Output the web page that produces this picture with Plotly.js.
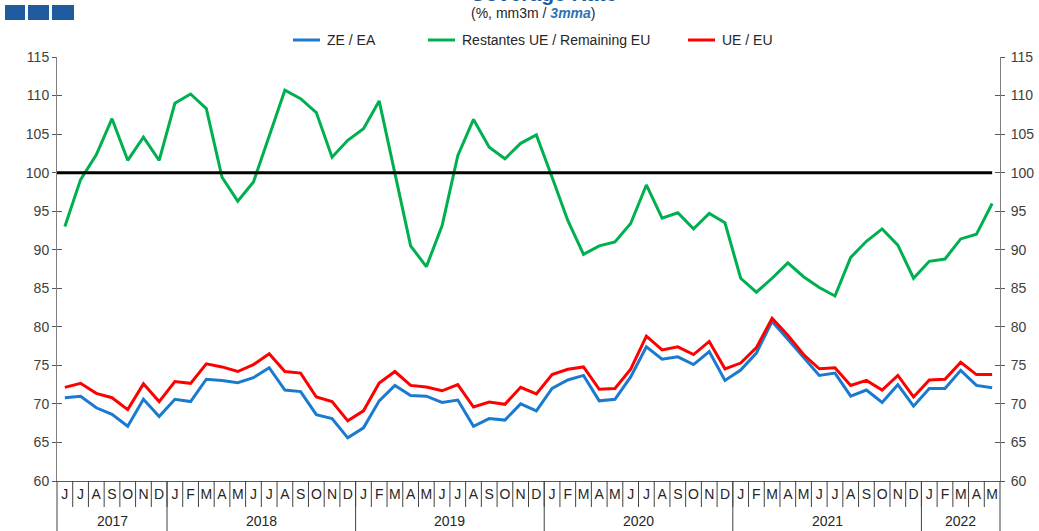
<!DOCTYPE html>
<html><head><meta charset="utf-8">
<script src="https://cdn.plot.ly/plotly-3.0.1.min.js"></script>
<style>html,body{margin:0;padding:0;background:#fff;} #chart{width:1039px;height:531px;}</style>
</head><body><div id="chart"></div>
<script>
// ---- data ----
const years = ['2017','2018','2019','2020','2021','2022'];
const monthsPerYear = [7, 12, 12, 12, 12, 5];
const firstMonthOfYear = [6, 1, 1, 1, 1, 1];
const monthLetters = [
  'J','J','A','S','O','N','D',
  'J','F','M','A','M','J','J','A','S','O','N','D',
  'J','F','M','A','M','J','J','A','S','O','N','D',
  'J','F','M','A','M','J','J','A','S','O','N','D',
  'J','F','M','A','M','J','J','A','S','O','N','D',
  'J','F','M','A','M'
];
const seriesNames = ['ZE / EA', 'Restantes UE / Remaining EU', 'UE / EU'];
const eaValues = [
  70.8, 71.0, 69.5, 68.65, 67.1, 70.6, 68.35,
  70.6, 70.3, 73.2, 73.05, 72.75, 73.4, 74.7, 71.8, 71.6, 68.6, 68.1, 65.6,
  66.9, 70.4, 72.4, 71.1, 71.0, 70.2, 70.5, 67.1, 68.1, 67.9, 70.0, 69.1,
  72.0, 73.1, 73.7, 70.4, 70.6, 73.5, 77.4, 75.8, 76.1, 75.1, 76.8, 73.05,
  74.4, 76.6, 80.7, 78.4, 76.0, 73.7, 74.0, 71.0, 71.8, 70.2, 72.5, 69.7,
  72.0, 72.0, 74.35, 72.4, 72.1
];
const remainingValues = [
  93.0, 99.1, 102.3, 107.0, 101.6, 104.6, 101.6,
  109.0, 110.2, 108.3, 99.4, 96.3, 98.8, 104.9, 110.7, 109.6, 107.8, 102.0, 104.2,
  105.7, 109.3, 99.9, 90.5, 87.8, 93.1, 102.2, 106.9, 103.3, 101.8, 103.8, 104.9,
  99.4, 93.8, 89.4, 90.5, 91.0, 93.4, 98.4, 94.1, 94.8, 92.7, 94.7, 93.5,
  86.3, 84.5, 86.3, 88.3, 86.5, 85.1, 84.0, 89.0, 91.1, 92.7, 90.6, 86.3,
  88.5, 88.8, 91.4, 92.0, 96.0
];
const euValues = [
  72.15, 72.67, 71.37, 70.8, 69.26, 72.6, 70.3,
  72.9, 72.67, 75.2, 74.8, 74.2, 75.1, 76.5, 74.2, 74.0, 70.9, 70.3, 67.8,
  69.1, 72.7, 74.2, 72.4, 72.2, 71.7, 72.5, 69.6, 70.25, 69.95, 72.15, 71.3,
  73.8, 74.5, 74.8, 71.9, 72.0, 74.5, 78.8, 77.0, 77.4, 76.4, 78.1, 74.55,
  75.3, 77.3, 81.1, 78.9, 76.4, 74.55, 74.7, 72.4, 73.05, 71.8, 73.7, 70.9,
  73.1, 73.2, 75.4, 73.8, 73.8
];
const referenceLevel = 100;

// ---- build ----
const periods = [];
years.forEach((y, i) => {
  for (let k = 0; k < monthsPerYear[i]; k++) {
    const m = firstMonthOfYear[i] + k;
    periods.push(y + '-' + (m < 10 ? '0' : '') + m);
  }
});
const N = periods.length;

const W = 1039, H = 531;
const M = {l: 57, r: 39, t: 57, b: 50};
const PW = W - M.l - M.r, PH = H - M.t - M.b;
const px = p => (p - M.l) / PW;
const py = p => (H - M.b - p) / PH;

const COLORS = ['#1a7ad0', '#00b050', '#ff0000'];
const FONT = 'Liberation Sans, Arial, sans-serif';

const traces = [
  {x: periods, y: eaValues, name: seriesNames[0], type: 'scatter', mode: 'lines', line: {color: COLORS[0], width: 3}},
  {x: periods, y: remainingValues, name: seriesNames[1], type: 'scatter', mode: 'lines', line: {color: COLORS[1], width: 3}},
  {x: periods, y: euValues, name: seriesNames[2], type: 'scatter', mode: 'lines', line: {color: COLORS[2], width: 3}},
  {x: [], y: [], yaxis: 'y2', showlegend: false, hoverinfo: 'skip'},
  {x: [], y: [], yaxis: 'y3', showlegend: false, hoverinfo: 'skip'},
  {x: [], y: [], yaxis: 'y4', showlegend: false, hoverinfo: 'skip'}
];

const shapes = [];
const annotations = [];

// 100 reference line
shapes.push({type: 'line', xref: 'paper', yref: 'y', x0: 0, x1: (N - 0.5) / N, y0: referenceLevel, y1: referenceLevel,
  line: {color: '#000', width: 3}});

// month separators
for (let k = 1; k < N; k++) {
  shapes.push({type: 'line', xref: 'paper', yref: 'paper', x0: k / N, x1: k / N, y0: 0, y1: py(507),
    line: {color: '#404040', width: 1}});
}
// year separators and labels
let start = 0;
years.forEach((y, i) => {
  shapes.push({type: 'line', xref: 'paper', yref: 'paper', x0: start / N, x1: start / N, y0: 0, y1: py(531),
    line: {color: '#404040', width: 1}});
  annotations.push({xref: 'paper', yref: 'paper', x: (start + monthsPerYear[i] / 2) / N, y: py(521),
    text: y, showarrow: false, xanchor: 'center', yanchor: 'middle', font: {family: FONT, size: 14, color: '#262626'}});
  start += monthsPerYear[i];
});
shapes.push({type: 'line', xref: 'paper', yref: 'paper', x0: 1, x1: 1, y0: 0, y1: py(531),
  line: {color: '#404040', width: 1}});

// legend (manual)
const legendPos = [[293, 325], [428, 460], [688, 720]];
seriesNames.forEach((n, i) => {
  shapes.push({type: 'line', xref: 'paper', yref: 'paper', x0: px(legendPos[i][0]), x1: px(legendPos[i][0] + 27),
    y0: py(40), y1: py(40), line: {color: COLORS[i], width: 3}});
  annotations.push({xref: 'paper', yref: 'paper', x: px(legendPos[i][1]), y: py(40), text: n, showarrow: false,
    xanchor: 'left', yanchor: 'middle', font: {family: FONT, size: 14, color: '#262626'}});
});

// top-left squares
[[5, 25], [28, 49], [52, 74]].forEach(s => {
  shapes.push({type: 'rect', xref: 'paper', yref: 'paper', x0: px(s[0]), x1: px(s[1]), y0: py(5), y1: py(20),
    fillcolor: '#1f5b9e', line: {width: 0}});
});

// titles
annotations.push({xref: 'paper', yref: 'paper', x: px(543), y: py(-7), text: '<b>Coverage Rate</b>', showarrow: false,
  xanchor: 'center', yanchor: 'middle', font: {family: FONT, size: 21, color: '#1f5b9e'}});
annotations.push({xref: 'paper', yref: 'paper', x: px(533), y: py(13),
  text: '(%, mm3m / <b><i><span style="color:#2e75b6">3mma</span></i></b>)', showarrow: false,
  xanchor: 'center', yanchor: 'middle', font: {family: FONT, size: 14, color: '#262626'}});

const yBase = {range: [60, 115], tick0: 60, dtick: 5, showgrid: false, zeroline: false, fixedrange: true,
  linecolor: '#7f7f7f', linewidth: 1, tickcolor: '#595959', tickfont: {family: FONT, size: 14, color: '#404040'}};

const layout = {
  width: W, height: H, margin: M, showlegend: false,
  paper_bgcolor: '#fff', plot_bgcolor: '#fff',
  font: {family: FONT, size: 14, color: '#404040'},
  xaxis: {type: 'category', range: [-0.5, N - 0.5], tickmode: 'array', tickvals: periods, ticktext: monthLetters,
    ticks: '', showline: true, linecolor: '#595959', linewidth: 1, showgrid: false, zeroline: false, fixedrange: true,
    tickfont: {family: FONT, size: 14, color: '#262626'}},
  yaxis: Object.assign({}, yBase, {side: 'left', ticks: 'outside', ticklen: 4, showline: true}),
  yaxis2: Object.assign({}, yBase, {side: 'right', overlaying: 'y', anchor: 'x', ticks: 'outside', ticklen: 4, showline: true, ticklabelstandoff: 3}),
  yaxis3: Object.assign({}, yBase, {side: 'left', overlaying: 'y', anchor: 'x', ticks: 'inside', ticklen: 5, showline: false, showticklabels: false}),
  yaxis4: Object.assign({}, yBase, {side: 'right', overlaying: 'y', anchor: 'x', ticks: 'inside', ticklen: 5, showline: false, showticklabels: false}),
  shapes: shapes, annotations: annotations
};

Plotly.newPlot('chart', traces, layout, {displayModeBar: false, staticPlot: true});
</script>
</body></html>
